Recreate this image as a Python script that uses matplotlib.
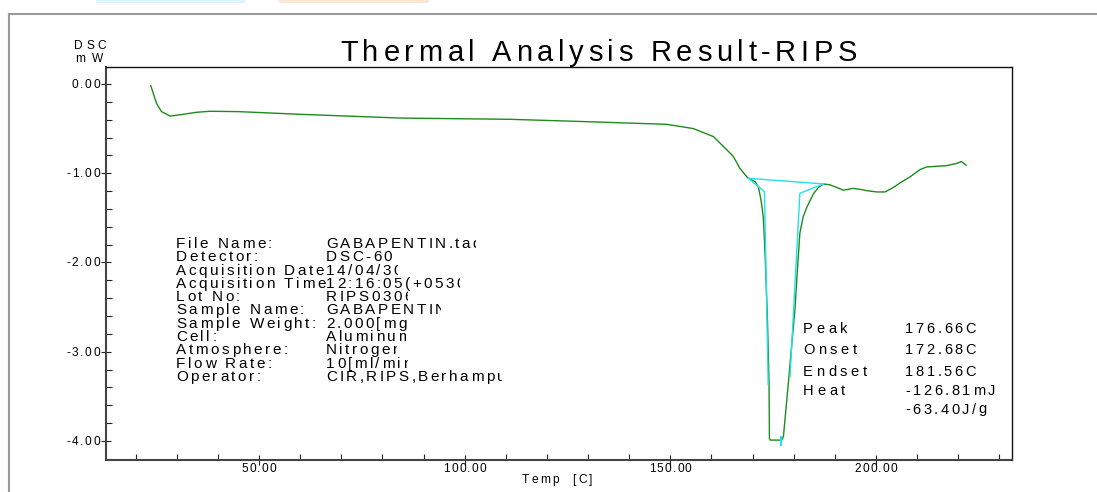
import matplotlib
matplotlib.use('Agg')
import matplotlib.pyplot as plt
from matplotlib.font_manager import FontProperties, findfont, get_font
from matplotlib.ticker import MultipleLocator
from matplotlib.transforms import Bbox
from matplotlib.lines import Line2D
from matplotlib.patches import Rectangle

# DATA
temp = [23.7, 25.1, 26.3, 28.4, 31.6, 34.9, 38.1, 45.0, 60.0, 84.3, 111.0, 128.0,
        149.1, 155.6, 160.5, 162.9, 165.3, 166.9, 168.6, 169.0, 170.6, 171.4, 172.05,
        172.6, 173.0, 173.3, 173.6, 173.8, 174.0, 174.1, 174.3, 177.1, 177.5, 178.1,
        178.7, 179.7, 180.3, 180.9, 181.5, 182.3, 183.2, 184.8, 186.0, 187.2, 188.8,
        190.5, 192.1, 193.3, 194.5, 196.1, 197.7, 200.2, 202.2, 204.2, 205.8, 208.3,
        210.7, 212.3, 217.2, 219.6, 220.8, 221.9]
dsc = [-0.02, -0.22, -0.31, -0.36, -0.34, -0.317, -0.306, -0.31, -0.34, -0.382, -0.396, -0.42,
       -0.452, -0.50, -0.59, -0.70, -0.81, -0.945, -1.04, -1.057, -1.095, -1.15, -1.30,
       -1.49, -1.86, -2.23, -2.61, -2.98, -3.35, -3.97, -3.99, -3.99, -3.95, -3.65,
       -3.35, -2.83, -2.53, -2.08, -1.67, -1.49, -1.38, -1.23, -1.16, -1.12, -1.13,
       -1.16, -1.19, -1.18, -1.17, -1.18, -1.195, -1.21, -1.21, -1.16, -1.11, -1.04,
       -0.96, -0.93, -0.915, -0.89, -0.87, -0.91]

# peak construction lines (baseline + tangents)
base_t, base_v = [169.0, 187.2], [-1.057, -1.12]
left_t, left_v = [169.0, 172.9, 173.8], [-1.057, -1.207, -3.37]
right_t, right_v = [187.2, 181.5, 179.1], [-1.12, -1.225, -3.28]
peak_t, peak_v = [176.9, 176.9], [-3.96, -4.05]

xticks = [50, 100, 150, 200]
yticks = [0, -1, -2, -3, -4]

info_labels = ['File Name:', 'Detector:', 'Acquisition Date', 'Acquisition Time',
               'Lot No:', 'Sample Name:', 'Sample Weight:', 'Cell:', 'Atmosphere:',
               'Flow Rate:', 'Operator:']
info_values = ['GABAPENTIN.tad', 'DSC-60', '14/04/30', '12:16:05(+0530)', 'RIPS0306',
               'GABAPENTIN', '2.000[mg]', 'Aluminum', 'Nitrogen', '10[ml/min]',
               'CIR,RIPS,Berhampur']
# how many characters of each value the printout lets through (fields are cut off)
info_keep = [13.4, None, 7.5, 13.5, 7.5, 9.6, 8.0, 7.6, 7.6, 8.6, 16.6]

result_labels = ['Peak', 'Onset', 'Endset', 'Heat', '']
result_values = ['176.66C', '172.68C', '181.56C', '-126.81mJ', '-63.40J/g']

W, H = 1097, 492
FONT = 'Liberation Sans'
fig = plt.figure(figsize=(W / 100, H / 100), dpi=100)
ax = fig.add_axes([105.7 / W, 1 - 460 / H, (1011.7 - 105.7) / W, (460 - 67) / H])


def spaced(x, y, s, size, track=0.0, width=None, ha='left', keep=None, color='black'):
    # draw s glyph by glyph, baseline at pixel (x, y) from top-left, with extra letter spacing
    prop = FontProperties(family=FONT, size=size)
    font = get_font(findfont(prop))
    font.set_size(size, 100)
    adv = [font.load_char(ord(c)).linearHoriAdvance / 65536 for c in s]
    if width is not None and len(s) > 1:
        track = (width - sum(adv)) / (len(s) - 1)
    total = sum(adv) + track * (len(s) - 1)
    if ha == 'center':
        x -= total / 2
    elif ha == 'right':
        x -= total
    clip_x = None
    if keep is not None:
        n = int(keep)
        clip_x = x + sum(adv[:n]) + track * n + adv[n] * (keep - n)
    for c, a in zip(s, adv):
        t = fig.text(x / W, 1 - y / H, c, fontproperties=prop, color=color,
                     ha='left', va='baseline')
        if clip_x is not None:
            t.set_clip_box(Bbox.from_extents(0, 0, clip_x, H))
        x += a + track


# PLOT
ax.plot(temp, dsc, color='#1c8c1c', lw=1.0)
ax.plot(base_t, base_v, color='#22e0ee', lw=1.0)
ax.plot(left_t, left_v, color='#22e0ee', lw=1.0)
ax.plot(right_t, right_v, color='#22e0ee', lw=1.0)
ax.plot(peak_t, peak_v, color='#22e0ee', lw=1.5)

ax.set_xlim(12.73, 233.0)
ax.set_ylim(-4.213, 0.19)
ax.xaxis.set_major_locator(MultipleLocator(50))
ax.xaxis.set_minor_locator(MultipleLocator(10))
ax.yaxis.set_major_locator(MultipleLocator(1))
ax.yaxis.set_minor_locator(MultipleLocator(0.2))
ax.tick_params(which='major', direction='inout', length=7, width=0.8, color='#222',
               labelbottom=False, labelleft=False)
ax.tick_params(which='minor', direction='in', length=4, width=0.8, color='#222')
for side in ['top', 'right']:
    ax.spines[side].set_color('#111')
    ax.spines[side].set_linewidth(1.0)
for side in ['left', 'bottom']:
    ax.spines[side].set_color('#444')
    ax.spines[side].set_linewidth(1.5)

# tick labels, placed through the axes transform
fig.canvas.draw()
for t in xticks:
    px, py = ax.transData.transform((t, ax.get_ylim()[0]))
    spaced(px, H - py + 11.5, f'{t:.2f}', 8.6, track=1.2, ha='center')
for v in yticks:
    px, py = ax.transData.transform((ax.get_xlim()[0], v))
    spaced(px - 6, H - py + 4, f'{v:.2f}', 8.6, track=1.6, ha='right')

spaced(557, 483, 'Temp  [C]', 8.6, width=70, ha='center')
spaced(90, 49, 'DSC', 8.6, width=32, ha='center')
spaced(89, 62, 'mW', 8.6, width=28, ha='center')
spaced(598.5, 61, 'Thermal Analysis Result-RIPS', 21, width=517, ha='center')

for i, (lab, val, k) in enumerate(zip(info_labels, info_values, info_keep)):
    y = 248 + 13.3 * i
    spaced(176, y, lab, 11, track=2.5)
    spaced(326, y, val, 11, track=2.4, keep=k)

for lab, val, y in zip(result_labels, result_values, [333, 354, 375.5, 395, 413.5]):
    spaced(803, y, lab, 10.5, track=3.6)
    spaced(905, y, val, 10.5, track=2.6)

# outer frame and colour tabs of the instrument printout
fig.add_artist(Line2D([9 / W, 1], [1 - 14 / H, 1 - 14 / H], color='#9a9a9a', lw=1.5))
fig.add_artist(Line2D([9 / W, 9 / W], [0, 1 - 14 / H], color='#9a9a9a', lw=1.5))
fig.add_artist(Rectangle((96 / W, 1 - 3 / H), 149 / W, 3 / H, color='#d8f6fb', lw=0))
fig.add_artist(Rectangle((279 / W, 1 - 3 / H), 150 / W, 3 / H, color='#fde6d4', lw=0))

fig.savefig('out.png', dpi=100)
